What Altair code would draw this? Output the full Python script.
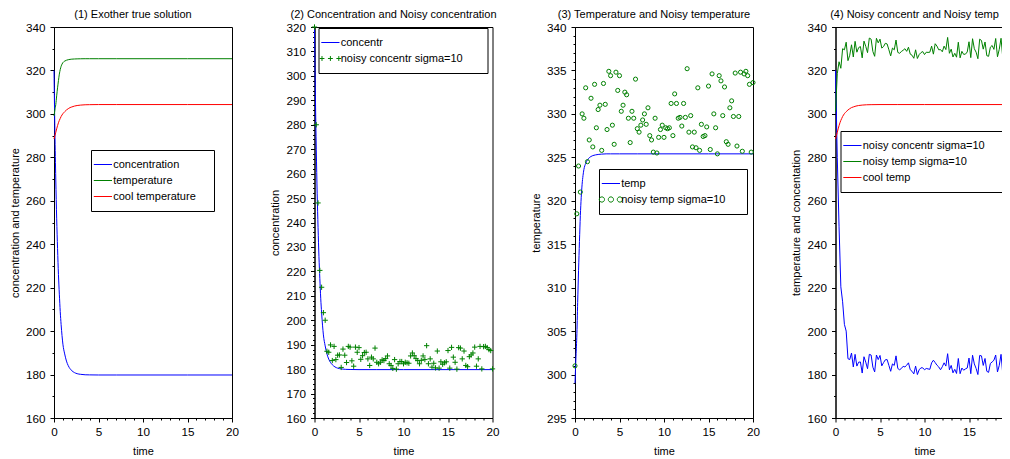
import altair as alt
import pandas as pd

# ---------------- data ----------------
T_SMOOTH = [0, 0.1, 0.2, 0.3, 0.4, 0.5, 0.6, 0.7, 0.8, 0.9, 1.0, 1.2, 1.4, 1.6,
            1.8, 2.0, 2.3, 2.6, 3.0, 3.5, 4.0, 5.0, 7.0, 10.0, 15.0, 20.0]
CONCENTRATION = [320, 292, 270, 252, 238, 226, 217, 209, 203, 198, 194, 189.5,
                 186.2, 184.1, 182.7, 181.8, 180.9, 180.4, 180.1, 179.9, 179.85,
                 179.8, 179.8, 179.8, 179.8, 179.8]
TEMPERATURE = [299, 301.8, 304.3, 308.3, 312, 315.3, 318.3, 320.4, 321.9, 322.9,
               323.6, 324.3, 324.7, 324.95, 325.1, 325.2, 325.28, 325.33, 325.37,
               325.4, 325.4, 325.4, 325.4, 325.4, 325.4, 325.4]
COOL_TEMPERATURE = [288.5, 290, 291.5, 293.1, 294.6, 295.9, 297.0, 297.9, 298.8,
                    299.5, 300.1, 301.0, 301.8, 302.4, 302.9, 303.2, 303.6, 303.85,
                    304.05, 304.2, 304.25, 304.3, 304.3, 304.3, 304.3, 304.3]

T_NOISY = [round(0.2 * i, 1) for i in range(101)]
NOISY_CONCENTR = [
    320, 280, 248, 220.4, 213.5, 203.1, 200, 187.3, 186.9, 189.9,
    183.5, 189.3, 183.9, 185.7, 185.8, 180.7, 188.2, 185.7, 182.7, 189.3,
    189.0, 183.4, 181.2, 189.0, 186.9, 188.8, 184.0, 185.5, 186.8, 186.9,
    184.2, 181.5, 184.9, 184.2, 188.6, 182.8, 182.2, 182.8, 183.8, 183.5,
    184.3, 185.4, 182.2, 181.5, 180.3, 183.9, 180.0, 182.2, 183.1, 183.1,
    182.2, 182.8, 182.6, 182.4, 185.4, 186.6, 185.5, 184.3, 183.5, 182.2,
    183.6, 185.4, 183.9, 189.6, 182.2, 184.2, 180.8, 182.4, 180.5, 187.4,
    180.4, 183.0, 182.0, 182.6, 183.0, 187.6, 180.4, 188.9, 184.9, 182.8,
    180.0, 188.8, 188.6, 184.2, 187.4, 181.5, 181.0, 185.1, 185.8, 186.6,
    189.0, 181.2, 184.2, 189.3, 180.1, 189.2, 189.3, 188.8, 188.0, 187.6,
    180.1]
NOISY_TEMP = [
    301.0, 318.5, 324.0, 321.0, 330.0, 329.5, 333.0, 324.5, 327.0, 331.8,
    326.2, 333.4, 328.4, 330.5, 331.0, 325.8, 333.5, 331.1, 328.2, 334.9,
    334.4, 328.7, 326.5, 334.8, 332.7, 334.4, 330.3, 331.0, 332.5, 332.2,
    329.5, 326.7, 330.3, 329.5, 334.0, 328.3, 327.9, 328.7, 329.3, 330.0,
    328.8, 330.7, 327.5, 327.0, 325.6, 329.5, 325.5, 327.3, 328.2, 328.7,
    327.3, 328.4, 328.3, 328.4, 331.2, 327.5, 332.3, 331.2, 329.5, 329.6,
    328.6, 331.2, 329.6, 335.2, 327.9, 329.8, 326.2, 327.9, 326.1, 333.0,
    325.8, 328.8, 327.4, 327.5, 328.5, 333.2, 325.9, 334.6, 330.0, 328.4,
    325.4, 334.4, 333.8, 329.8, 333.1, 326.8, 326.5, 330.7, 331.5, 329.7,
    334.7, 326.3, 329.7, 334.8, 325.7, 334.6, 334.9, 334.4, 333.4, 325.6,
    333.6]

TITLES = ["(1) Exother true solution", "(2) Concentration and Noisy concentration",
          "(3) Temperature and Noisy temperature", "(4) Noisy concentr and Noisy temp"]
Y_TITLES = ["concentration and temperature", "concentration", "temperature",
            "temperature and concentation"]
X_TITLE = "time"

BLUE, GREEN, RED = "#0000ff", "#008000", "#ff0000"
FONT = "Liberation Sans"

# legend symbols (custom paths, unit coords)
LINE_SYM = "M-2.6,0H2.6"
PLUS3_SYM = ("M-3.1,0H-1.7M-2.4,-0.7V0.7M-0.7,0H0.7M0,-0.7V0.7"
             "M1.7,0H3.1M2.4,-0.7V0.7")
CIRC3_SYM = ("M-1.82,0A0.75,0.75 0 1,0 -3.32,0A0.75,0.75 0 1,0 -1.82,0"
             "M0.75,0A0.75,0.75 0 1,0 -0.75,0A0.75,0.75 0 1,0 0.75,0"
             "M3.32,0A0.75,0.75 0 1,0 1.82,0A0.75,0.75 0 1,0 3.32,0")
PLUS_MARK = "M-1,0H1M0,-1V1"

W, H = 178, 391
NB = "\u00a0"
ZW = "\u200b"


def long_df(t, series):
    rows = []
    for name, vals in series.items():
        for ti, vi in zip(t, vals):
            rows.append({"t": ti, "v": vi, "series": name})
    return pd.DataFrame(rows)


X_SCALE = alt.Scale(domain=[0, 20], nice=False, zero=False)
X_MAJOR = alt.Axis(values=[0, 5, 10, 15, 20], title=X_TITLE, orient="bottom",
                   tickSize=4, labelPadding=4, titlePadding=8, grid=False,
                   labelFlush=False, labelOverlap=False)
X_MINOR = alt.Axis(values=[v for v in range(1, 20) if v % 5], labels=False, title=None,
                   domain=False, tickSize=2, orient="bottom", grid=False)


def y_axes(lo, hi, major, minor, title):
    maj = alt.Axis(values=list(range(lo, hi + 1, major)), title=title, orient="left",
                   tickSize=4, labelPadding=5, titlePadding=5, grid=False,
                   labelFlush=False, labelOverlap=False)
    mnr = alt.Axis(values=[v for v in range(lo, hi + 1, minor) if (v - lo) % major],
                   labels=False, title=None, domain=False, tickSize=2, orient="left",
                   grid=False)
    return maj, mnr


def legend(x, y, pad_spaces, symtype=LINE_SYM):
    return alt.Legend(orient="none", legendX=x, legendY=y, title=None,
                      strokeColor="black", fillColor="white", padding=9, rowPadding=4,
                      symbolSize=49, symbolType=symtype, symbolStrokeWidth=1,
                      symbolFillColor="transparent", symbolOffset=-2.6, labelOffset=4.8,
                      labelFontSize=11, labelFont=FONT, labelColor="black",
                      labelExpr="datum.label + '" + NB * pad_spaces + ZW + "'")


def panel(layers, minor_df, ydom, major, minor, idx):
    ys = alt.Scale(domain=list(ydom), nice=False, zero=False)
    ymaj, ymin = y_axes(ydom[0], ydom[1], major, minor, Y_TITLES[idx])
    built = []
    for i, (ch, enc) in enumerate(layers):
        built.append(ch.encode(
            x=alt.X("t:Q", scale=X_SCALE, axis=X_MAJOR if i == 0 else None),
            y=alt.Y("v:Q", scale=ys, axis=ymaj if i == 0 else None),
            **enc))
    minor_layer = alt.Chart(minor_df).mark_point(opacity=0, size=1).encode(
        x=alt.X("t:Q", scale=X_SCALE, axis=X_MINOR),
        y=alt.Y("v:Q", scale=ys, axis=ymin))
    return alt.layer(*built, minor_layer).resolve_axis(
        x="independent", y="independent").properties(
        width=W, height=H,
        title=alt.TitleParams(TITLES[idx], fontSize=11, font=FONT, fontWeight="normal",
                              color="black", offset=2, dx=-10, anchor="middle"))


# ---- panel 1 ----
names1 = ["concentration", "temperature", "cool temperature"]
df1 = long_df(T_SMOOTH, dict(zip(names1, [CONCENTRATION, TEMPERATURE, COOL_TEMPERATURE])))
c1 = alt.Color("series:N", scale=alt.Scale(domain=names1, range=[BLUE, GREEN, RED]),
               legend=legend(37, 123, 3))
p1 = panel([(alt.Chart(df1).mark_line(strokeWidth=1, interpolate="monotone"), {"color": c1})],
           df1, (160, 340), 20, 10, 0)

# ---- panel 2 ----
names2 = ["concentr", "noisy concentr sigma=10"]
df2a = long_df(T_SMOOTH, {names2[0]: CONCENTRATION})
df2b = long_df(T_NOISY, {names2[1]: NOISY_CONCENTR})
sym2 = alt.ExprRef("datum.value === 'concentr' ? '" + LINE_SYM + "' : '" + PLUS3_SYM + "'")
leg2 = legend(4, 1, 5, symtype=sym2)
sc2 = alt.Scale(domain=names2, range=[BLUE, GREEN])
p2 = panel([
    (alt.Chart(df2a).mark_line(strokeWidth=1, interpolate="monotone"),
     {"color": alt.Color("series:N", scale=sc2, legend=leg2)}),
    (alt.Chart(df2b).mark_point(shape=PLUS_MARK, filled=False, size=28, strokeWidth=1,
                                opacity=1),
     {"color": alt.Color("series:N", scale=sc2, legend=leg2)}),
], df2a, (160, 320), 10, 2, 1)

# ---- panel 3 ----
names3 = ["temp", "noisy temp sigma=10"]
df3a = long_df(T_SMOOTH, {names3[0]: TEMPERATURE})
df3b = long_df(T_NOISY, {names3[1]: NOISY_TEMP})
sym3 = alt.ExprRef("datum.value === 'temp' ? '" + LINE_SYM + "' : '" + CIRC3_SYM + "'")
leg3 = legend(24, 142, 4, symtype=sym3)
sc3 = alt.Scale(domain=names3, range=[BLUE, GREEN])
p3 = panel([
    (alt.Chart(df3a).mark_line(strokeWidth=1, interpolate="monotone"),
     {"color": alt.Color("series:N", scale=sc3, legend=leg3)}),
    (alt.Chart(df3b).mark_point(shape="circle", filled=False, size=17, strokeWidth=1,
                                opacity=1),
     {"color": alt.Color("series:N", scale=sc3, legend=leg3)}),
], df3a, (295, 340), 5, 1, 2)

# ---- panel 4 ----
names4 = ["noisy concentr sigma=10", "noisy temp sigma=10", "cool temp"]
df4a = long_df(T_NOISY, {names4[0]: NOISY_CONCENTR, names4[1]: NOISY_TEMP})
df4b = long_df(T_SMOOTH, {names4[2]: COOL_TEMPERATURE})
leg4 = legend(5, 104, 8)
sc4 = alt.Scale(domain=names4, range=[BLUE, GREEN, RED])
p4 = panel([
    (alt.Chart(df4a).mark_line(strokeWidth=1),
     {"color": alt.Color("series:N", scale=sc4, legend=leg4)}),
    (alt.Chart(df4b).mark_line(strokeWidth=1, interpolate="monotone"),
     {"color": alt.Color("series:N", scale=sc4, legend=leg4)}),
], df4b, (160, 340), 20, 10, 3)

chart = alt.hconcat(p1, p2, p3, p4, spacing=82.5, bounds="flush").resolve_scale(
    color="independent"
).resolve_legend(color="independent").properties(
    padding={"left": 0, "top": 0, "right": -19, "bottom": 0}
).configure_view(stroke="black", strokeWidth=1).configure_axis(
    labelFont=FONT, titleFont=FONT, labelFontSize=11.7, titleFontSize=11,
    titleFontWeight="normal", labelColor="black", titleColor="black",
    tickColor="black", domainColor="black", domainWidth=1, tickWidth=1
).configure_legend(labelFont=FONT)

chart.save("out.html", embed_options={"renderer": "svg", "actions": False})
